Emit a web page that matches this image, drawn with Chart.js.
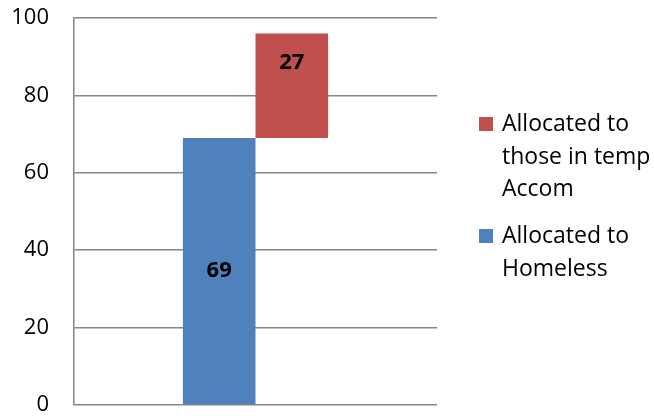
<!DOCTYPE html>
<html>
<head>
<meta charset="utf-8">
<script src="https://cdn.jsdelivr.net/npm/chart.js@4.4.0/dist/chart.umd.min.js"></script>
<style>
  html, body { margin: 0; padding: 0; background: #fff; }
  #wrap { width: 654px; height: 416px; }
</style>
</head>
<body>
<div id="wrap"><canvas id="chart" width="654" height="416"></canvas></div>
<script>
// data
const categories = [''];
const homelessRange = [0, 69];
const tempAccomRange = [69, 96];
const yTicks = [0, 20, 40, 60, 80, 100];
const legendLines = [
    ['Allocated to', 'those in temp', 'Accom'],
    ['Allocated to', 'Homeless']
];

const blue = '#4F81BD';
const red = '#C0504D';
const gridGrey = '#868686';
const fontFamily = "'Open Sans', 'Liberation Sans', sans-serif";

// value labels inside the bars
const barLabels = {
    id: 'barLabels',
    afterDatasetsDraw(chart) {
        const ctx = chart.ctx;
        ctx.save();
        ctx.font = `bold 22px ${fontFamily}`;
        ctx.fillStyle = '#000';
        ctx.textAlign = 'center';
        ctx.textBaseline = 'middle';
        chart.data.datasets.forEach((ds, i) => {
            const bar = chart.getDatasetMeta(i).data[0];
            const range = ds.data[0];
            const value = range[1] - range[0];
            let y = (bar.y + bar.base) / 2;
            if (i === 1) y = bar.y + 29;
            ctx.fillText(String(value), bar.x, y);
        });
        ctx.restore();
    }
};

// legend on the right, red entry first, wrapped text
const sideLegend = {
    id: 'sideLegend',
    afterDraw(chart) {
        const ctx = chart.ctx;
        ctx.save();
        ctx.font = `23px ${fontFamily}`;
        ctx.textBaseline = 'alphabetic';
        ctx.textAlign = 'left';
        const entries = [
            { color: red, lines: legendLines[0], top: 117 },
            { color: blue, lines: legendLines[1], top: 229 }
        ];
        entries.forEach(e => {
            ctx.fillStyle = e.color;
            ctx.fillRect(479, e.top, 14, 14);
            ctx.fillStyle = '#000';
            e.lines.forEach((line, j) => {
                ctx.fillText(line, 502, e.top + 14 + j * 32.5);
            });
        });
        ctx.restore();
    }
};

new Chart(document.getElementById('chart'), {
    type: 'bar',
    data: {
        labels: categories,
        datasets: [
            {
                label: legendLines[1].join(' '),
                data: [homelessRange],
                backgroundColor: blue
            },
            {
                label: legendLines[0].join(' '),
                data: [tempAccomRange],
                backgroundColor: red
            }
        ]
    },
    options: {
        responsive: false,
        devicePixelRatio: 1,
        animation: false,
        categoryPercentage: 0.4,
        barPercentage: 1,
        layout: {
            padding: { top: 18, right: 217, bottom: 11, left: 0 }
        },
        plugins: {
            legend: { display: false },
            tooltip: { enabled: false }
        },
        scales: {
            x: { display: false },
            y: {
                min: 0,
                max: 100,
                afterBuildTicks: (scale) => {
                    scale.ticks = yTicks.map(v => ({ value: v }));
                },
                afterFit: (scale) => {
                    scale.width = 74;
                    scale.paddingTop = 0;
                    scale.paddingBottom = 0;
                },
                ticks: {
                    color: '#000',
                    padding: 25,
                    font: { family: fontFamily, size: 22 }
                },
                grid: {
                    color: gridGrey,
                    lineWidth: 1.5,
                    drawTicks: false
                },
                border: {
                    color: gridGrey,
                    width: 1.5
                }
            }
        }
    },
    plugins: [barLabels, sideLegend]
});
</script>
</body>
</html>
